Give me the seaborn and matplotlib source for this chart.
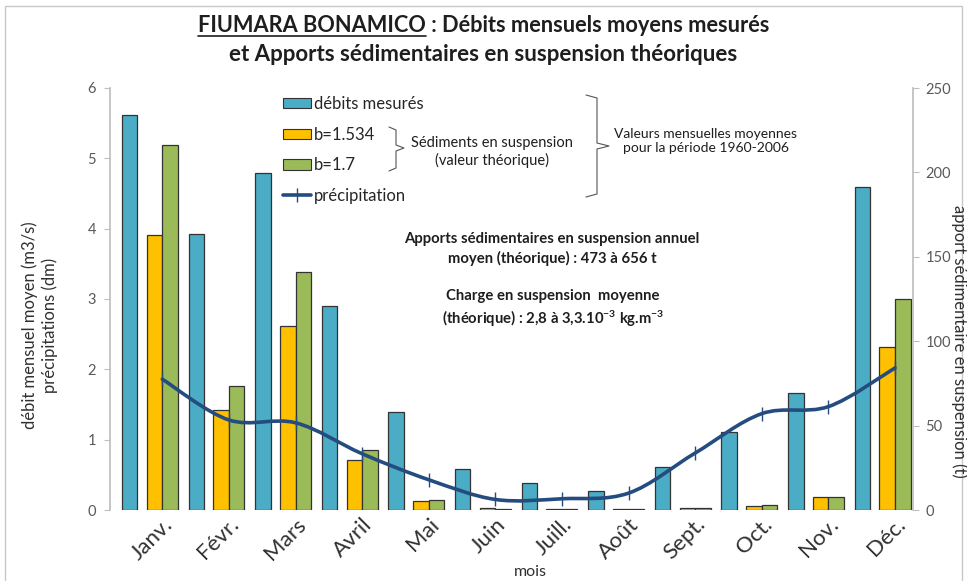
import numpy as np
import pandas as pd
import matplotlib
matplotlib.use("Agg")
import matplotlib.pyplot as plt
from matplotlib.path import Path
from matplotlib.patches import PathPatch, Patch, Rectangle
from matplotlib.lines import Line2D
import seaborn as sns

# Monthly means 1960-2006
mois = ["Janv.", "Févr.", "Mars", "Avril", "Mai", "Juin",
        "Juill.", "Août", "Sept.", "Oct.", "Nov.", "Déc."]
debits = [5.62, 3.92, 4.79, 2.90, 1.39, 0.59, 0.39, 0.27, 0.61, 1.11, 1.67, 4.59]   # m3/s
sed_b1534 = [162.7, 59.2, 108.8, 29.6, 5.5, 1.0, 0.5, 0.5, 0.9, 2.5, 7.5, 96.7]   # t
sed_b17 = [216.0, 73.6, 141.0, 35.4, 5.9, 0.6, 0.5, 0.5, 1.0, 2.7, 7.9, 124.8]    # t
precip = [1.86, 1.28, 1.24, 0.80, 0.43, 0.15, 0.16, 0.24, 0.81, 1.37, 1.47, 2.02]  # dm
series_sed = ["b=1.534", "b=1.7"]

BLUE = "#4BACC6"
ORANGE = "#FFC000"
GREEN = "#9BBB59"
LINE = "#254C7F"
EDGE = "#333333"
AXIS = "#BFBFBF"
TXT = "#1E1E1E"
TICK = "#595959"

sns.set_theme(style="white")
plt.rcParams["font.family"] = ["Lato", "DejaVu Sans"]
plt.rcParams["mathtext.default"] = "regular"

W, H = 967, 581
fig = plt.figure(figsize=(W / 100, H / 100), dpi=100)
fig.patch.set_facecolor("white")


def fx(px):
    return px / W


def fy(py):
    return 1 - py / H


# sediment axis (right scale) drawn first, flow + rain axis (left scale) on top
ax_sed = fig.add_axes([fx(110), fy(510), fx(913) - fx(110), fy(88) - fy(510)])
ax_q = ax_sed.twinx()

df_sed = pd.DataFrame({
    "mois": mois * 2,
    "serie": [series_sed[0]] * 12 + [series_sed[1]] * 12,
    "apport": sed_b1534 + sed_b17,
})
sns.barplot(data=df_sed, x="mois", y="apport", hue="serie",
            palette=[ORANGE, GREEN], width=0.466, gap=0, saturation=1,
            errorbar=None, edgecolor=EDGE, linewidth=0.9, legend=False,
            ax=ax_sed)

x_cat = np.arange(len(mois))
sns.barplot(x=x_cat - 0.49, y=debits, native_scale=True, orient="x",
            width=0.233, color=BLUE, saturation=1, errorbar=None,
            edgecolor=EDGE, linewidth=0.9, ax=ax_q)

# smoothed precipitation curve (Catmull-Rom as cubic Bezier segments)
P = np.column_stack([x_cat, precip]).astype(float)
n = len(P)
verts = [P[0]]
codes = [Path.MOVETO]
for i in range(n - 1):
    p_prev = P[max(i - 1, 0)]
    p0, p1 = P[i], P[i + 1]
    p_next = P[min(i + 2, n - 1)]
    verts += [p0 + (p1 - p_prev) / 6, p1 - (p_next - p0) / 6, p1]
    codes += [Path.CURVE4] * 3
ax_q.add_patch(PathPatch(Path(verts, codes), fill=False, edgecolor=LINE,
                         lw=2.6, capstyle="round", joinstyle="round", zorder=5))
sns.lineplot(x=x_cat, y=precip, ax=ax_q, linestyle="", marker="|",
             markersize=10, markeredgewidth=1.0, markeredgecolor=LINE,
             color=LINE, zorder=6)

# axes cosmetics
ax_sed.set_xlim(-0.785, 11.27)
ax_q.set_ylim(0, 6)
ax_sed.set_ylim(0, 250)
ax_q.set_yticks(range(0, 7))
ax_sed.set_yticks(range(0, 251, 50))
ax_sed.yaxis.tick_right()
ax_q.yaxis.tick_left()
for ax in (ax_sed, ax_q):
    ax.set_xlabel("")
    ax.set_ylabel("")
    for s in ("top", "bottom"):
        ax.spines[s].set_visible(False)
ax_sed.spines["left"].set_visible(False)
ax_q.spines["right"].set_visible(False)
ax_sed.spines["right"].set_color(AXIS)
ax_q.spines["left"].set_color(AXIS)
ax_q.tick_params(axis="y", which="major", left=True, length=4, width=0.8,
                 color=AXIS, labelsize=10.5, labelcolor=TICK, pad=6)
ax_sed.tick_params(axis="y", which="major", right=True, length=4, width=0.8,
                   color=AXIS, labelsize=10.5, labelcolor=TICK, pad=5)
ax_sed.set_xticks(x_cat)
ax_sed.set_xticklabels(mois, rotation=45, ha="right", rotation_mode="anchor",
                       fontsize=16, color="#303030")
ax_sed.tick_params(axis="x", length=0, pad=3)
ax_sed.grid(False)
ax_q.grid(False)

# axis titles
fig.text(fx(530), fy(572), "mois", ha="center", va="center", fontsize=11.5,
         color="#303030")
fig.text(fx(40), fy(325), "débit mensuel moyen (m3/s)\nprécipitations (dm)",
         rotation=90, ha="center", va="center", multialignment="center",
         fontsize=12, color="#303030", linespacing=1.25)
fig.text(fx(959), fy(341), "apport sédimentaire en suspension (t)",
         rotation=-90, ha="center", va="center", fontsize=12, color="#303030")

# legend
handles = [
    Patch(facecolor=BLUE, edgecolor=EDGE, linewidth=0.8),
    Patch(facecolor=ORANGE, edgecolor=EDGE, linewidth=0.8),
    Patch(facecolor=GREEN, edgecolor=EDGE, linewidth=0.8),
    Line2D([0], [0], color=LINE, lw=2.6, marker="|", markersize=10,
           markeredgewidth=1.0),
]
labels = ["débits mesurés", series_sed[0], series_sed[1], "précipitation"]
fig.legend(handles, labels, loc="upper left",
           bbox_to_anchor=(fx(283), fy(96)), frameon=False, fontsize=12,
           handlelength=1.65, handleheight=0.6, handletextpad=0.2,
           labelspacing=0.88, borderpad=0, borderaxespad=0)


def brace(x0, x1, x2, ytop, ybot, ymid):
    pts = [(x0, ytop), (x1, ytop + 3), (x1, ymid - 3), (x2, ymid),
           (x1, ymid + 3), (x1, ybot - 3), (x0, ybot)]
    xs = [fx(p[0]) for p in pts]
    ys = [fy(p[1]) for p in pts]
    fig.add_artist(Line2D(xs, ys, transform=fig.transFigure, color="#555555",
                          lw=0.8))


brace(389, 396, 404, 127, 171, 148)
fig.text(fx(492), fy(152), "Sédiments en suspension\n(valeur théorique)",
         ha="center", va="center", multialignment="center", fontsize=10.5,
         color=TXT, linespacing=1.3)
brace(586, 597, 609, 95, 197, 146)
fig.text(fx(706), fy(141), "Valeurs mensuelles moyennes\npour la période 1960-2006",
         ha="center", va="center", multialignment="center", fontsize=10,
         color=TXT, linespacing=1.3)

fig.text(fx(552), fy(249),
         "Apports sédimentaires en suspension annuel\nmoyen (théorique) : 473 à 656 t",
         ha="center", va="center", multialignment="center", fontsize=10.7,
         fontweight="bold", color=TXT, linespacing=1.4)
fig.text(fx(553), fy(309),
         "Charge en suspension  moyenne\n(théorique) : 2,8 à 3,3.10$^{-3}$ kg.m$^{-3}$",
         ha="center", va="center", multialignment="center", fontsize=10.7,
         fontweight="bold", color=TXT, linespacing=1.4)

# title, with the river name underlined
renderer = fig.canvas.get_renderer()
tkw = dict(fontsize=15.7, fontweight="bold", color=TXT, va="baseline", ha="left")
t_a = fig.text(0, fy(32), "FIUMARA BONAMICO", **tkw)
t_b = fig.text(0, fy(32), " : Débits mensuels moyens mesurés", **tkw)
wa = t_a.get_window_extent(renderer).width
wb = t_b.get_window_extent(renderer).width
x0 = (W - wa - wb) / 2
t_a.set_x(fx(x0))
t_b.set_x(fx(x0 + wa))
fig.add_artist(Line2D([fx(x0), fx(x0 + wa)], [fy(36), fy(36)],
                      transform=fig.transFigure, color=TXT, lw=1.2))
fig.text(0.5, fy(61), "et Apports sédimentaires en suspension théoriques",
         fontsize=16, fontweight="bold", color=TXT, va="baseline", ha="center")

# chart frame
fig.add_artist(Rectangle((fx(5), fy(590)), fx(962) - fx(5), fy(6) - fy(590),
                         transform=fig.transFigure, fill=False,
                         edgecolor="#C8C8C8", lw=1))

fig.savefig("out.png", dpi=100)
